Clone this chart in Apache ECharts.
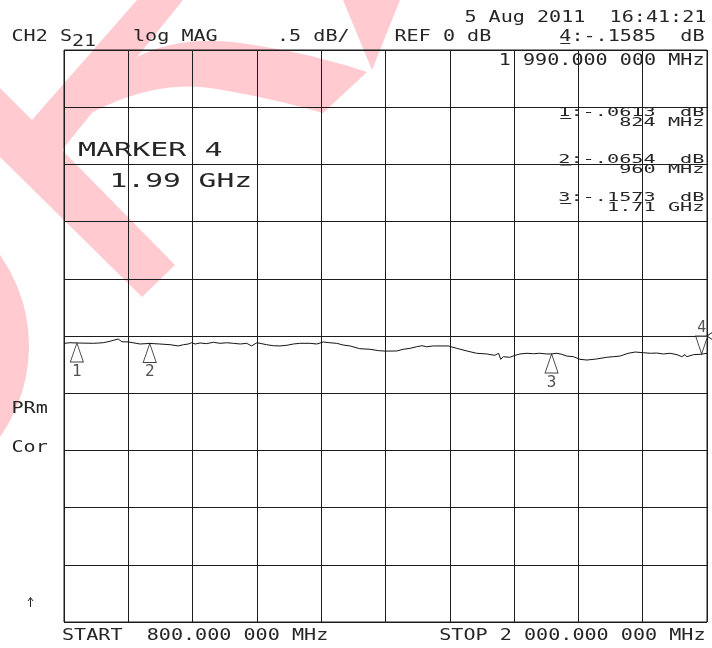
<!DOCTYPE html>
<html>
<head>
<meta charset="utf-8">
<script src="https://cdn.jsdelivr.net/npm/echarts@6/dist/echarts.min.js"></script>
<style>
  html, body { margin: 0; padding: 0; background: #fff; }
  #chart { width: 712px; height: 648px; }
</style>
</head>
<body>
<div id="chart"></div>
<script>
// Sweep settings of the S21 measurement
const START_MHZ = 800;
const STOP_MHZ = 2000;
const FREQ_DIV_MHZ = 120;
const REF_DB = 0;
const SCALE_DB_PER_DIV = 0.5;
const DIVISIONS = 10;

// Measured S21 magnitude trace (frequency in MHz, magnitude in dB)
const traceFreqMHz = [
  800, 811, 824, 855, 873, 886, 901, 908, 920, 942,
  960, 979, 998, 1013, 1023, 1032, 1038, 1045, 1054, 1066,
  1079, 1091, 1104, 1116, 1129, 1141, 1150, 1160, 1166, 1178,
  1191, 1203, 1216, 1228, 1240, 1259, 1272, 1284, 1296, 1309,
  1321, 1334, 1352, 1371, 1387, 1399, 1421, 1433, 1446, 1458,
  1468, 1477, 1489, 1505, 1517, 1533, 1552, 1570, 1589, 1604,
  1611, 1615, 1620, 1632, 1642, 1651, 1664, 1676, 1688, 1701,
  1710, 1720, 1729, 1738, 1751, 1763, 1776, 1794, 1813, 1825,
  1838, 1853, 1866, 1881, 1894, 1906, 1919, 1931, 1944, 1953,
  1959, 1962, 1975, 1990, 2000
];
const traceDb = [
  -0.064, -0.059, -0.061, -0.064, -0.059, -0.046, -0.026, -0.050, -0.052, -0.070,
  -0.065, -0.070, -0.076, -0.087, -0.076, -0.070, -0.059, -0.070, -0.061, -0.067,
  -0.055, -0.064, -0.059, -0.064, -0.070, -0.064, -0.087, -0.059, -0.064, -0.076,
  -0.085, -0.087, -0.081, -0.070, -0.064, -0.064, -0.070, -0.052, -0.059, -0.064,
  -0.079, -0.087, -0.111, -0.116, -0.128, -0.132, -0.131, -0.116, -0.108, -0.094,
  -0.085, -0.094, -0.087, -0.087, -0.087, -0.108, -0.131, -0.151, -0.157, -0.169,
  -0.151, -0.204, -0.181, -0.186, -0.169, -0.157, -0.151, -0.155, -0.151, -0.157,
  -0.157, -0.151, -0.160, -0.175, -0.181, -0.204, -0.210, -0.201, -0.186, -0.181,
  -0.175, -0.151, -0.140, -0.146, -0.151, -0.149, -0.157, -0.151, -0.163, -0.181,
  -0.163, -0.181, -0.163, -0.159, -0.151
];

// Markers
const markerIds = [1, 2, 3, 4];
const markerFreqMHz = [824, 960, 1710, 1990];
const markerDb = [-0.0613, -0.0654, -0.1573, -0.1585];
const activeMarker = 4;

// Annotation texts
const channelLabel = 'CH2';
const paramLabel = 'S';
const paramSub = '21';
const formatLabel = 'log MAG';
const stampLabel = '5 Aug 2011  16:41:21';
const sideLabels = ['PRm', 'Cor'];

// ---------- formatting helpers ----------
function fmtDb(v) {
  const s = Math.abs(v).toFixed(4).replace(/^0/, '');
  return (v < 0 ? '-' : '') + s;
}
function fmtShortFreq(mhz) {
  if (mhz < 1000) return mhz + ' MHz';
  return (mhz / 1000).toFixed(2) + ' GHz';
}
function fmtLongFreq(mhz) {
  const ip = Math.floor(mhz);
  const frac = String(Math.round((mhz - ip) * 1e6)).padStart(6, '0');
  const grouped = String(ip).replace(/\B(?=(\d{3})+(?!\d))/g, ' ');
  return grouped + '.' + frac.slice(0, 3) + ' ' + frac.slice(3) + ' MHz';
}

// ---------- text helpers (stroke-font look: monospace stretched wide) ----------
const FONT = '"DejaVu Sans Mono", monospace';
const INK = '#262626';
const PITCH = 12.1;
function label(text, x, y, o) {
  o = o || {};
  const fs = o.fs || 15;
  return {
    type: 'text', x: x, y: y, z: 20,
    scaleX: o.sx || 1.34, scaleY: o.sy || 1,
    style: {
      text: text, font: fs + 'px ' + FONT, fill: INK,
      align: o.align || 'left', verticalAlign: 'middle'
    }
  };
}
function underline(x1, x2, y) {
  return { type: 'line', z: 20, shape: { x1: x1, y1: y, x2: x2, y2: y },
           style: { stroke: INK, lineWidth: 1 } };
}
// sample a chain of quadratic curves into polygon points
function quadChain(start, segs) {
  const pts = [start];
  let p0 = start;
  segs.forEach(s => {
    const c = s[0], p1 = s[1];
    for (let k = 1; k <= 12; k++) {
      const t = k / 12, u = 1 - t;
      pts.push([u * u * p0[0] + 2 * u * t * c[0] + t * t * p1[0],
                u * u * p0[1] + 2 * u * t * c[1] + t * t * p1[1]]);
    }
    p0 = p1;
  });
  return pts;
}

const chart = echarts.init(document.getElementById('chart'), null, { renderer: 'canvas' });

const span = STOP_MHZ - START_MHZ;
const halfSpan = SCALE_DB_PER_DIV * DIVISIONS / 2;
const traceData = traceFreqMHz.map((f, i) => [f - START_MHZ, traceDb[i]]);
const markerPts = markerIds.map((id, i) => ({
  name: String(id), value: [markerFreqMHz[i] - START_MHZ, markerDb[i]]
}));
const idx = markerIds.indexOf(activeMarker);

// graphic overlays: background emblem + instrument annotations
const RIGHT = 704.5;
const graphics = [];

// faint red emblem behind the graticule
const EMBLEM = '#ffcad0';
const swoosh = quadChain([128, 62], [[[170, 36], [232, 42]], [[300, 50], [367, 72]]])
  .concat(quadChain([323, 113], [[[268, 97], [210, 88]], [[150, 80], [86, 116]]]));
graphics.push(
  { type: 'polygon', z: -5, silent: true,
    shape: { points: [[137,0],[183,0],[62,150],[175,265],[142,297],[0,157],[0,88],[32,120]] },
    style: { fill: EMBLEM } },
  { type: 'polygon', z: -5, silent: true,
    shape: { points: swoosh },
    style: { fill: EMBLEM } },
  { type: 'polygon', z: -5, silent: true,
    shape: { points: [[343,0],[400,0],[372,70]] },
    style: { fill: EMBLEM } },
  { type: 'circle', z: -5, silent: true,
    shape: { cx: -128, cy: 346, r: 157 },
    style: { fill: EMBLEM } }
);

// header
graphics.push(label(stampLabel, 464.4, 18));
graphics.push(label(channelLabel + ' ' + paramLabel, 11.5, 37));
graphics.push(label(paramSub, 72, 42));
graphics.push(label(formatLabel, 133, 37));
graphics.push(label(String(SCALE_DB_PER_DIV).replace(/^0/, '') + ' dB/', 277, 37));
graphics.push(label('REF ' + REF_DB + ' dB', 394.5, 37));
const activeLine = activeMarker + ':' + fmtDb(markerDb[idx]) + '  dB';
graphics.push(label(activeLine, RIGHT, 37, { align: 'right' }));
{
  const x0 = RIGHT - activeLine.length * PITCH;
  graphics.push(underline(x0 + 1, x0 + 11, 43.5));
}
graphics.push(label(fmtLongFreq(markerFreqMHz[idx]), RIGHT, 61, { align: 'right' }));

// marker readout table (inactive markers)
const tableRows = [[113, 122.5], [159.5, 169.5], [198, 208]];
let row = 0;
markerIds.forEach((id, i) => {
  if (id === activeMarker) return;
  const r = tableRows[row++];
  const l1 = id + ':' + fmtDb(markerDb[i]) + '  dB';
  graphics.push(label(l1, RIGHT, r[0], { align: 'right', sy: 0.8, sx: 1.35 }));
  const x0 = RIGHT - l1.length * PITCH;
  graphics.push(underline(x0 + 1, x0 + 12, r[0] + 5.5));
  graphics.push(label(fmtShortFreq(markerFreqMHz[i]), RIGHT, r[1], { align: 'right', sy: 0.8, sx: 1.35 }));
});

// active marker banner
graphics.push(label('MARKER ' + activeMarker, 78, 150.5, { fs: 20, sx: 1.5 }));
graphics.push(label(fmtShortFreq(markerFreqMHz[idx]), 109.5, 182, { fs: 20, sx: 1.48 }));

// left side annunciators
graphics.push(label(sideLabels[0], 11.5, 409.5));
graphics.push(label(sideLabels[1], 11.5, 448.5));
// small up arrow annunciator
graphics.push(
  { type: 'line', z: 20, shape: { x1: 30.5, y1: 598, x2: 30.5, y2: 607 },
    style: { stroke: INK, lineWidth: 1 } },
  { type: 'polyline', z: 20, shape: { points: [[28, 601], [30.5, 597.5], [33, 601]] },
    style: { stroke: INK, lineWidth: 1, fill: null } }
);

// sweep limits
graphics.push(label('START  ' + fmtLongFreq(START_MHZ), 62, 636.5));
graphics.push(label('STOP ' + fmtLongFreq(STOP_MHZ), 705.5, 636.5, { align: 'right' }));

const gridLine = { show: true, lineStyle: { color: '#1c1c1c', width: 1 } };

chart.setOption({
  animation: false,
  backgroundColor: '#ffffff',
  grid: { left: 64, top: 50, width: 643, height: 572, show: true,
          borderColor: '#1c1c1c', borderWidth: 1, backgroundColor: 'transparent' },
  xAxis: {
    type: 'value', min: 0, max: span, interval: FREQ_DIV_MHZ,
    axisLine: { show: false }, axisTick: { show: false }, axisLabel: { show: false },
    splitLine: gridLine
  },
  yAxis: {
    type: 'value', min: REF_DB - halfSpan, max: REF_DB + halfSpan, interval: SCALE_DB_PER_DIV,
    axisLine: { show: false }, axisTick: { show: false }, axisLabel: { show: false },
    splitLine: gridLine
  },
  graphic: graphics,
  series: [
    {
      name: 'S21', type: 'line', data: traceData, showSymbol: false, z: 3,
      lineStyle: { color: '#141414', width: 1 }
    },
    {
      name: 'markers', type: 'scatter', z: 4,
      data: markerPts.filter(p => p.name !== String(activeMarker)),
      symbol: 'triangle', symbolSize: [13, 19], symbolOffset: [0, '50%'],
      itemStyle: { color: '#ffffff', borderColor: '#141414', borderWidth: 1 },
      label: { show: true, position: 'bottom', distance: 1, formatter: '{b}',
               fontFamily: 'DejaVu Sans Mono', fontSize: 16, color: INK }
    },
    {
      name: 'active marker', type: 'scatter', z: 4,
      data: [markerPts[idx]],
      symbol: 'path://M0,0L12,0L6,18Z', symbolSize: [12, 18], symbolOffset: [0, '-50%'],
      itemStyle: { color: '#ffffff', borderColor: '#141414', borderWidth: 1 },
      label: { show: true, position: 'top', distance: 0, formatter: '{b}',
               fontFamily: 'DejaVu Sans Mono', fontSize: 15, color: INK }
    },
    {
      name: 'reference position', type: 'scatter', z: 4,
      data: [[span, REF_DB]],
      symbol: 'path://M6,0L0,4L6,8', symbolSize: [6, 8], symbolOffset: [3, 0],
      itemStyle: { color: 'rgba(0,0,0,0)', borderColor: '#141414', borderWidth: 1 }
    }
  ]
});
</script>
</body>
</html>
